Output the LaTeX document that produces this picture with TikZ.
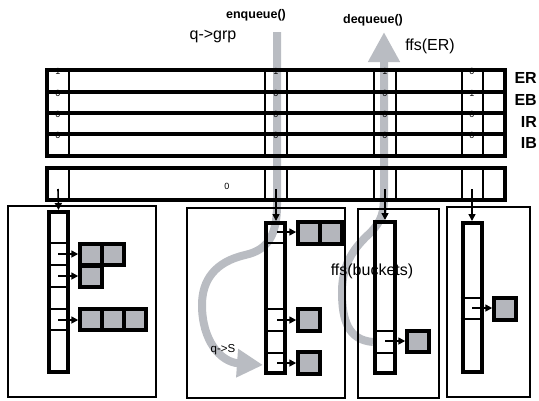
\documentclass[tikz,border=0pt]{standalone}
\usepackage{fontspec}
\setmainfont{Liberation Sans}
\usetikzlibrary{arrows.meta}
\definecolor{ga}{RGB}{185,188,194}
\definecolor{sq}{RGB}{180,182,188}
\begin{document}
\begin{tikzpicture}[x=1pt,y=-1pt,
  thickline/.style={line width=4pt},
  divider/.style={line width=1.4pt},
  panel/.style={draw,line width=1.6pt},
  arr/.style={draw,line width=4pt,inner sep=0pt,minimum width=19pt},
  ptr/.style={line width=1.6pt,-{Triangle[length=7pt,width=7pt]}},
  grayarrow/.style={draw=ga,line width=8pt},
  bucket/.style={draw,line width=4pt,fill=sq,inner sep=0pt,minimum size=21.5pt},
  bit/.style={font=\fontsize{9}{9}\selectfont,inner sep=0pt},
  reglabel/.style={font=\fontsize{16}{16}\selectfont\bfseries,anchor=east,inner sep=0pt},
  callname/.style={font=\fontsize{12.5}{12.5}\selectfont\bfseries,inner sep=0pt},
  lbl/.style={font=\fontsize{16}{16}\selectfont,inner sep=0pt}
]
\useasboundingbox (0,0) rectangle (539,400);

% gray flow arrows (behind everything)
\coordinate (enqS) at (277,32);
\coordinate (enqE) at (263,365);
\draw[grayarrow,-{Triangle[length=26pt,width=27pt]}] (enqS) -- (277,205)
  .. controls (277,235) and (268,250) .. (245,255)
  .. controls (215,262) and (202,280) .. (202,305)
  .. controls (202,340) and (220,362) .. (enqE);
\coordinate (deqS) at (373,342);
\coordinate (deqE) at (384,32);
\draw[grayarrow,-{Triangle[length=30pt,width=30pt]}] (deqS)
  .. controls (348,340) and (342,320) .. (342,292)
  .. controls (342,262) and (356,246) .. (370,233)
  .. controls (382,221) and (384,212) .. (384,195) -- (deqE);

% register bits (drawn before the lines, partly covered)
\foreach \y/\a/\b/\c/\d in {70/1/1/1/0, 92/0/0/0/1, 113/0/0/0/0, 134/0/0/0/0}{
  \node[bit] at (58,\y+1.5) {\a};
  \node[bit] at (276,\y+1.5) {\b};
  \node[bit] at (385,\y+1.5) {\c};
  \node[bit] at (472,\y+1.5) {\d};
}

% register block ER/EB/IR/IB
\draw[thickline] (47,70) rectangle (505,156);
\foreach \y in {92,113,134} \draw[thickline] (47,\y) -- (505,\y);
\foreach \x in {69,265,287,374,396,462,483} \draw[divider] (\x,70) -- (\x,156);
\node[reglabel] (ER) at (537,78) {ER};
\node[reglabel] (EB) at (537,100) {EB};
\node[reglabel] (IR) at (537,122) {IR};
\node[reglabel] (IB) at (537,143) {IB};

% group array block
\draw[thickline] (47,168) rectangle (505,200);
\foreach \x in {69,265,287,374,396,462,483} \draw[divider] (\x,168) -- (\x,200);
\node[font=\fontsize{9}{9}\selectfont,inner sep=0pt] (zero) at (227,186) {0};
\coordinate (g1) at (58,189);
\coordinate (g2) at (276,189);
\coordinate (g3) at (385,189);
\coordinate (g4) at (472,189);

% panels
\draw[panel] (8,206) rectangle (156,397);
\draw[panel] (187,208) rectangle (345,398);
\draw[panel] (358,209) rectangle (439,398);
\draw[panel] (447,207) rectangle (530,397);

% bucket arrays
\node[arr,minimum height=160pt] (A1) at (58.5,292) {};
\node[arr,minimum height=150pt] (A2) at (275.5,298) {};
\node[arr,minimum width=20pt,minimum height=151pt] (A3) at (385,297.5) {};
\node[arr,minimum height=149pt] (A4) at (472,297.5) {};
\foreach \y in {243,265,287,309,330} \draw[divider] (A1.west |- 0,\y) -- (A1.east |- 0,\y);
\foreach \y in {243,309,331,353} \draw[divider] (A2.west |- 0,\y) -- (A2.east |- 0,\y);
\foreach \y in {331,353} \draw[divider] (A3.west |- 0,\y) -- (A3.east |- 0,\y);
\foreach \y in {298,319} \draw[divider] (A4.west |- 0,\y) -- (A4.east |- 0,\y);

\draw[ptr] (g1) -- (A1.north);
\draw[ptr] (g2) -- (g2 |- A2.north);
\draw[ptr] (g3) -- (g3 |- A3.north);
\draw[ptr] (g4) -- (A4.north);

% queue entries
\node[bucket] (p1a) at (91,254.5) {};
\node[bucket] (p1b) at (113,254.5) {};
\node[bucket] (p1c) at (91,276.5) {};
\node[bucket] (p1d) at (91,319.5) {};
\node[bucket] (p1e) at (113,319.5) {};
\node[bucket] (p1f) at (135,319.5) {};
\node[bucket] (p2a) at (309,233) {};
\node[bucket] (p2b) at (331,233) {};
\node[bucket] (p2c) at (309,320) {};
\node[bucket] (p2d) at (309,363) {};
\node[bucket] (p3a) at (418,341.5) {};
\node[bucket] (p4a) at (505,309) {};

\coordinate (s1a) at (58,254);
\coordinate (s1b) at (58,276);
\coordinate (s1c) at (58,320);
\coordinate (s2a) at (277,232);
\coordinate (s2b) at (277,320);
\coordinate (s2c) at (277,363);
\coordinate (s3a) at (385,341);
\coordinate (s4a) at (472,308);
\draw[ptr] (s1a) -- (s1a -| p1a.west);
\draw[ptr] (s1b) -- (s1b -| p1c.west);
\draw[ptr] (s1c) -- (s1c -| p1d.west);
\draw[ptr] (s2a) -- (s2a -| p2a.west);
\draw[ptr] (s2b) -- (s2b -| p2c.west);
\draw[ptr] (s2c) -- (s2c -| p2d.west);
\draw[ptr] (s3a) -- (s3a -| p3a.west);
\draw[ptr] (s4a) -- (s4a -| p4a.west);

% labels
\node[callname] (enq) at (256,15) {enqueue()};
\node[callname] (deq) at (373,20) {dequeue()};
\node[lbl] (qgrp) at (213,36) {q->grp};
\node[lbl] (ffser) at (430,46) {ffs(ER)};
\node[lbl] (ffsb) at (372,271) {ffs(buckets)};
\node[font=\fontsize{11.5}{11.5}\selectfont,inner sep=0pt] (qs) at (223,350) {q->S};
\end{tikzpicture}
\end{document}
